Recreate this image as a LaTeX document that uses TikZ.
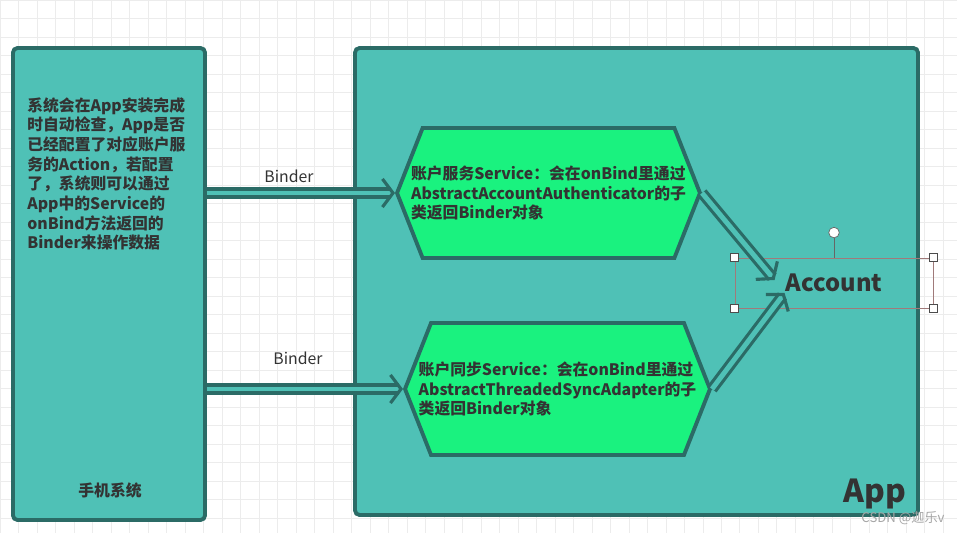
\documentclass[tikz,border=0pt]{standalone}
\usepackage{fontspec}
\setmainfont{Noto Sans CJK SC}
\usepackage{tikz}
\usetikzlibrary{shapes.symbols, arrows.meta, calc}
\definecolor{gridclr}{HTML}{ECECEC}
\definecolor{tealfill}{HTML}{4FC1B6}
\definecolor{tealdraw}{HTML}{2B6B66}
\definecolor{hexfill}{HTML}{1AF27F}
\definecolor{txt}{HTML}{333333}
\definecolor{seldraw}{HTML}{A07A7A}
\tikzset{
  box/.style={rectangle, rounded corners=2.5pt, draw=tealdraw, fill=tealfill, line width=2.2pt},
  hexa/.style={signal, signal to=west and east, signal pointer angle=137, draw=tealdraw, fill=hexfill, line width=2.2pt, inner sep=0pt},
  txtcn/.style={font=\bfseries\fontsize{9}{11.2}\selectfont, text=txt, align=left, inner sep=0pt},
  lab/.style={font=\fontsize{9}{11}\selectfont, text=txt},
  flow/.style={double=tealfill, double distance=2.8pt, line width=1.8pt, draw=tealdraw,
    -{Straight Barb[length=6pt, width=16pt, line width=1.8pt]}},
  handle/.style={rectangle, draw=black!70, fill=white, line width=0.4pt, minimum size=4.5pt, inner sep=0pt},
}
\begin{document}
\begin{tikzpicture}[x=0.02cm, y=-0.02cm]
  \useasboundingbox (0,0) rectangle (957,533);
  \draw[gridclr, line width=0.4pt, step=0.37cm] (0,533) grid (957,0);
  % boxes
  \node[box, minimum width=3.84cm, minimum height=9.44cm] (sys) at (109,284) {};
  \node[box, minimum width=11.26cm, minimum height=9.34cm] (app) at (636.5,281.5) {};
  \node[txtcn, anchor=north west] (sysdesc) at (27,97)
    {系统会在App安装完成\\时自动检查，App是否\\已经配置了对应账户服\\务的Action，若配置\\了，系统则可以通过\\App中的Service的\\onBind方法返回的\\Binder来操作数据};
  \node[txtcn] (syslbl) at (110,490) {手机系统};
  \node[font=\bfseries\fontsize{18}{20}\selectfont, text=txt, inner sep=0pt] (applbl) at (875,494) {App};
  % services
  \node[hexa, minimum width=6.06cm, minimum height=2.6cm,
    label={[txtcn]center:账户服务Service：会在onBind里通过\\AbstractAccountAuthenticator的子\\类返回Binder对象}] (acctsvc) at (548.5,193) {};
  \node[hexa, minimum width=6.1cm, minimum height=2.64cm,
    label={[txtcn]center:账户同步Service：会在onBind里通过\\AbstractThreadedSyncAdapter的子\\类返回Binder对象}] (syncsvc) at (557.5,389) {};
  % account
  \node[draw=seldraw, line width=0.5pt, minimum width=3.96cm, minimum height=1cm,
    font=\bfseries\fontsize{13.5}{15}\selectfont, text=txt] (account) at (834,283) {Account};
  % binder arrows
  \draw[flow] (sys.east |- acctsvc.west) -- (acctsvc.west);
  \draw[flow] (sys.east |- syncsvc.west) -- (syncsvc.west);
  \node[lab] (bind1) at (289,176) {Binder};
  \node[lab] (bind2) at (298,358) {Binder};
  \draw[flow] (acctsvc.east) -- ($(account.west)+(40,-3)$);
  \draw[flow] (syncsvc.east) -- ($(account.west)+(50,10)$);
  % selection handles
  \foreach \c/\n in {north west/nw, north east/ne, south west/sw, south east/se}
    \node[handle] (h\n) at (account.\c) {};
  \node[circle, draw=black!60, fill=white, minimum size=6pt, inner sep=0pt] (rot) at ($(account.north)+(0,-25)$) {};
  \draw[black!60, line width=0.5pt] (rot) -- (account.north);
  \node[font=\fontsize{7.5}{8}\selectfont, text=black!35] (mark) at (903,518) {CSDN @迦乐v};
\end{tikzpicture}
\end{document}
